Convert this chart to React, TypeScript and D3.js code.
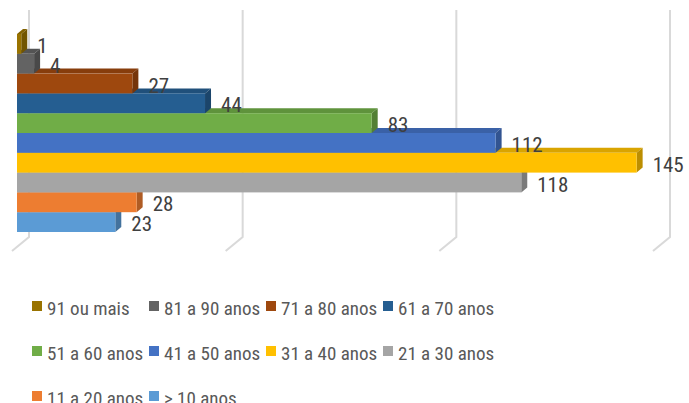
import React from "react";
import * as d3 from "d3";

// categories from top to bottom, as drawn in the chart
const categories = [
    "91 ou mais",
    "81 a 90 anos",
    "71 a 80 anos",
    "61 a 70 anos",
    "51 a 60 anos",
    "41 a 50 anos",
    "31 a 40 anos",
    "21 a 30 anos",
    "11 a 20 anos",
    "> 10 anos",
];
const values = [1, 4, 27, 44, 83, 112, 145, 118, 28, 23];
const colors = [
    "#997300",
    "#636363",
    "#9e480e",
    "#255e91",
    "#70ad47",
    "#4472c4",
    "#ffc000",
    "#a5a5a5",
    "#ed7d31",
    "#5b9bd5",
];
const ticks = [0, 50, 100, 150];

const W = 689;
const H = 403;
const FONT = "'Liberation Sans Narrow', 'Roboto Condensed', Roboto, sans-serif";

// 3D depth offset of the bars
const DX = 6;
const DY = -5;

export default function App() {
    const x = d3.scaleLinear().domain([0, 150]).range([17, 658]);
    const y = d3.scaleBand<string>().domain(categories).range([34, 232]).padding(0);
    const bh = y.bandwidth();

    // draw bottom bars first so the ones above cover their top faces
    const order = d3.range(categories.length).reverse();

    return (
        <svg
            width={W}
            height={H}
            style={{ position: "absolute", left: 0, top: 0, display: "block", background: "#fff" }}
        >
            {/* gridlines on the back wall + floor */}
            <g stroke="#d9d9d9" strokeWidth={2} fill="none">
                {ticks.map((t) => {
                    const bx = x(t) + 12;
                    return (
                        <path key={t} d={`M${bx},10 L${bx},237 L${x(t) - 5},251`} />
                    );
                })}
            </g>

            {/* 3D bars */}
            <g>
                {order.map((i) => {
                    const c = categories[i];
                    const y0 = y(c)!;
                    const y1 = y0 + bh;
                    const x0 = x(0);
                    const x1 = x(values[i]);
                    const base = d3.color(colors[i])!;
                    const top = base.darker(0.45).formatHex();
                    const side = base.darker(0.85).formatHex();
                    return (
                        <g key={c}>
                            <path
                                d={`M${x0},${y0} L${x1},${y0} L${x1 + DX},${y0 + DY} L${x0 + DX},${y0 + DY} Z`}
                                fill={top}
                            />
                            <path
                                d={`M${x1},${y0} L${x1 + DX},${y0 + DY} L${x1 + DX},${y1 + DY} L${x1},${y1} Z`}
                                fill={side}
                            />
                            <rect x={x0} y={y0} width={x1 - x0} height={bh} fill={colors[i]} />
                        </g>
                    );
                })}
            </g>

            {/* value labels */}
            <g fontFamily={FONT} fontSize={21} fill="#404040">
                {categories.map((c, i) => (
                    <text key={c} x={x(values[i]) + 16} y={y(c)! + bh / 2 + 9}>
                        {values[i]}
                    </text>
                ))}
            </g>

            {/* legend */}
            <g fontFamily={FONT} fontSize={19} fill="#595959">
                {categories.map((c, i) => {
                    const col = i % 4;
                    const row = Math.floor(i / 4);
                    const lx = 32 + col * 117;
                    const ly = 301 + row * 45;
                    return (
                        <g key={c}>
                            <rect x={lx} y={ly} width={10} height={10} fill={colors[i]} />
                            <text x={lx + 15} y={ly + 13.5}>
                                {c}
                            </text>
                        </g>
                    );
                })}
            </g>
        </svg>
    );
}
